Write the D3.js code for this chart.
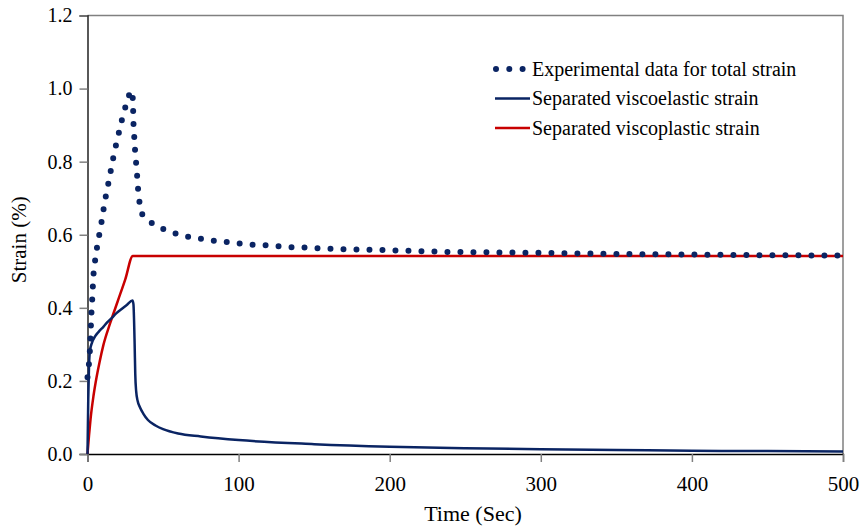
<!DOCTYPE html>
<html>
<head>
<meta charset="utf-8">
<script src="https://cdn.jsdelivr.net/npm/d3@7"></script>
<style>
  html, body { margin: 0; padding: 0; background: #fff; }
  svg { display: block; }
  text { font-family: "Liberation Serif", "Times New Roman", serif; fill: #000; }
</style>
</head>
<body>
<svg id="chart" width="862" height="527"></svg>
<script>
// Creep / recovery test: total strain and its separated components
const totalStrain = [
  [0, 0.21], [1.0, 0.248], [1.65, 0.287], [2.0, 0.321], [2.3, 0.357], [2.7, 0.395],
  [3.2, 0.429], [3.6, 0.464], [4.1, 0.499], [5.2, 0.535], [6.5, 0.571], [8.0, 0.605],
  [9.6, 0.642], [10.9, 0.677], [12.4, 0.712], [14.1, 0.747], [15.7, 0.782], [17.4, 0.818],
  [19.2, 0.852], [21.2, 0.887], [23.2, 0.922], [25.6, 0.957], [28.1, 0.990], [29.0, 0.995],
  [29.9, 0.978], [30.2, 0.943], [30.4, 0.907], [30.9, 0.871], [31.4, 0.835], [32.1, 0.800],
  [32.8, 0.764], [33.4, 0.728], [34.3, 0.692], [36.0, 0.657], [42.0, 0.633], [49.8, 0.616],
  [58.0, 0.604], [66.0, 0.595], [75.0, 0.589], [83.0, 0.584], [92.0, 0.580], [101, 0.576],
  [109, 0.573], [118, 0.571], [127, 0.568], [135, 0.566], [144, 0.565], [153, 0.563],
  [161, 0.562], [170, 0.560], [187, 0.559], [205, 0.557], [222, 0.555], [239, 0.553],
  [265, 0.552], [291, 0.551], [320, 0.549], [360, 0.547], [400, 0.546], [450, 0.544],
  [500, 0.543]
];

const viscoelasticStrain = [
  [0, 0], [0.5, 0.15], [1.0, 0.24], [1.65, 0.283], [3, 0.305], [5, 0.322], [7.5, 0.335],
  [10.5, 0.348], [13, 0.360], [16, 0.372], [19, 0.385], [22.6, 0.397], [26, 0.408],
  [29.8, 0.420], [30.4, 0.410], [31.2, 0.300], [31.6, 0.220], [32.2, 0.172], [33.2, 0.145],
  [34.7, 0.128], [37, 0.110], [40, 0.093], [45, 0.078], [50, 0.068], [60, 0.056],
  [75, 0.048], [100, 0.038], [150, 0.027], [200, 0.020], [250, 0.016], [300, 0.013],
  [350, 0.011], [400, 0.009], [450, 0.008], [500, 0.007]
];

const viscoplasticStrain = [
  [0, 0], [1, 0.05], [2, 0.095], [4, 0.16], [6, 0.21], [8, 0.252], [10.5, 0.298],
  [15, 0.358], [20, 0.418], [25, 0.478], [30, 0.542], [500, 0.542]
];

const xTicks = [0, 100, 200, 300, 400, 500];
const yTicks = [0, 0.2, 0.4, 0.6, 0.8, 1.0, 1.2];
const legendLabels = [
  "Experimental data for total strain",
  "Separated viscoelastic strain",
  "Separated viscoplastic strain"
];

const navy = "#0a2463";
const red = "#c80000";

const svg = d3.select("#chart");
const plot = { left: 87.5, top: 15.5, right: 843, bottom: 454 };

const x = d3.scaleLinear().domain([0, 500]).range([plot.left, plot.right]);
const y = d3.scaleLinear().domain([0, 1.2]).range([plot.bottom, plot.top]);

// plot-area frame (top and right edges)
svg.append("path")
  .attr("d", `M${plot.left},${plot.top}H${plot.right}V${plot.bottom}`)
  .attr("fill", "none").attr("stroke", "#808080").attr("stroke-width", 1.5);

// y axis
const yAxis = svg.append("g").attr("transform", `translate(${plot.left},0)`)
  .call(d3.axisLeft(y).tickValues(yTicks).tickFormat(d3.format(".1f")).tickSize(8).tickPadding(7));
yAxis.select(".domain").attr("stroke", "#000").attr("stroke-width", 1.3);
yAxis.selectAll(".tick line").attr("stroke", "#808080").attr("stroke-width", 1.5);
yAxis.selectAll(".tick text").attr("font-size", 20).attr("fill", "#000");

// x axis
const xAxis = svg.append("g").attr("transform", `translate(0,${plot.bottom})`)
  .call(d3.axisBottom(x).tickValues(xTicks).tickFormat(d3.format("d")).tickSize(8).tickPadding(14));
xAxis.select(".domain").attr("stroke", "#000").attr("stroke-width", 1.3);
xAxis.selectAll(".tick line").attr("stroke", "#808080").attr("stroke-width", 1.5);
xAxis.selectAll(".tick text").attr("font-size", 21).attr("fill", "#000");

// axis titles
svg.append("text")
  .attr("x", 473).attr("y", 521)
  .attr("text-anchor", "middle").attr("font-size", 22)
  .text("Time (Sec)");
svg.append("text")
  .attr("transform", `translate(26,${(plot.top + plot.bottom) / 2 + 5}) rotate(-90)`)
  .attr("text-anchor", "middle").attr("font-size", 21)
  .text("Strain (%)");

const line = d3.line().x(d => x(d[0])).y(d => y(d[1]));
const smooth = d3.line().x(d => x(d[0])).y(d => y(d[1])).curve(d3.curveMonotoneX);

// separated components
svg.append("path").datum(viscoplasticStrain)
  .attr("d", smooth).attr("fill", "none").attr("stroke", red).attr("stroke-width", 2.5);
svg.append("path").datum(viscoelasticStrain)
  .attr("d", smooth).attr("fill", "none").attr("stroke", navy).attr("stroke-width", 2.5);

// experimental total strain, round-dot line
svg.append("path").datum(totalStrain)
  .attr("d", line).attr("fill", "none").attr("stroke", navy)
  .attr("stroke-width", 6).attr("stroke-linecap", "round").attr("stroke-dasharray", "0 13");

// legend
const legend = svg.append("g").attr("transform", "translate(496,69)");
const rowGap = 29.5;
const styles = [
  { stroke: navy, width: 6, dash: "0 13.3", cap: "round" },
  { stroke: navy, width: 2.5, dash: null, cap: "butt" },
  { stroke: red, width: 2.5, dash: null, cap: "butt" }
];
legendLabels.forEach((label, i) => {
  const g = legend.append("g").attr("transform", `translate(0,${i * rowGap})`);
  g.append("line").attr("x1", i === 0 ? 0 : -1).attr("x2", i === 0 ? 27 : 34)
    .attr("stroke", styles[i].stroke).attr("stroke-width", styles[i].width)
    .attr("stroke-linecap", styles[i].cap).attr("stroke-dasharray", styles[i].dash);
  g.append("text").attr("x", 36).attr("y", 6.5).attr("font-size", 20).text(label);
});
</script>
</body>
</html>
